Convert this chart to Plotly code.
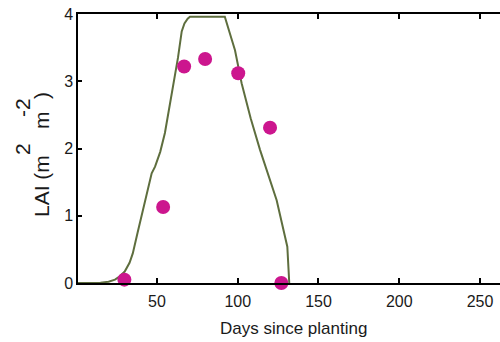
import plotly.graph_objects as go

# Simulated LAI curve
sim_days = [1, 10, 15, 20, 24, 27, 30, 33, 35, 38, 41.5, 44, 46.7, 48.8, 52, 54.9,
            58.5, 61, 63, 65.3, 67, 69, 70.4, 75, 80, 85, 92, 95, 98.3, 102.4, 108,
            113.8, 119, 124.1, 130.7, 131.9]
sim_lai = [0, 0, 0.005, 0.02, 0.05, 0.1, 0.17, 0.3, 0.44, 0.75, 1.09, 1.35, 1.63, 1.73,
           1.95, 2.23, 2.72, 3.05, 3.35, 3.74, 3.86, 3.93, 3.96, 3.96, 3.96, 3.96, 3.96,
           3.72, 3.46, 2.97, 2.45, 1.98, 1.6, 1.23, 0.54, 0.0]

# Observed LAI
obs_days = [29.8, 53.8, 66.8, 79.8, 100.3, 120.0, 127.0]
obs_lai = [0.05, 1.13, 3.22, 3.33, 3.12, 2.31, 0.0]

x_ticks = [50, 100, 150, 200, 250]
y_ticks = [0, 1, 2, 3, 4]

W, H = 500, 342
L, R, T, B = 78, 0, 14, 59
pw, ph = W - L - R, H - T - B

def px(xp):
    return (xp - L) / pw

def py(yp):
    return (H - B - yp) / ph

font = "Liberation Sans, Arial, sans-serif"
txt = "#1a1a1a"

fig = go.Figure()
fig.add_trace(go.Scatter(x=sim_days, y=sim_lai, mode="lines",
                         line=dict(color="#5E6E3E", width=2), showlegend=False,
                         cliponaxis=False))
fig.add_trace(go.Scatter(x=obs_days, y=obs_lai, mode="markers",
                         marker=dict(color="#CC168E", size=14, line=dict(width=0)),
                         showlegend=False, cliponaxis=False))

fig.update_layout(
    width=W, height=H,
    margin=dict(l=L, r=R, t=T, b=B, pad=0),
    paper_bgcolor="white", plot_bgcolor="white",
    font=dict(family=font, size=16, color=txt),
    xaxis=dict(range=[1.08, 262.4], tickvals=x_ticks, ticktext=[str(v) for v in x_ticks],
               ticks="inside", ticklen=5, tickwidth=1.5, tickcolor="black",
               showline=True, linecolor="black", linewidth=2, mirror="ticks",
               showgrid=False, zeroline=False, tickfont=dict(size=16, color=txt),
               ticklabelstandoff=3),
    yaxis=dict(range=[0, 4], tickvals=y_ticks, ticktext=[str(v) for v in y_ticks],
               ticks="inside", ticklen=4, tickwidth=1.5, tickcolor="black",
               showline=True, linecolor="black", linewidth=1.5, mirror=False,
               showgrid=False, zeroline=False, tickfont=dict(size=16, color=txt)),
)

ann = [
    ("Days since planting", 293.5, 328, 0, 17),
    ("LAI (m", 41, 186, -90, 21),
    ("m", 41, 120, -90, 21),
    (")", 41, 96, -90, 21),
    ("2", 22, 149, -90, 21),
    ("-2", 22, 107, -90, 21),
]
for t, xx, yy, ang, fs in ann:
    fig.add_annotation(text=t, xref="paper", yref="paper", x=px(xx), y=py(yy),
                       xanchor="center", yanchor="middle", showarrow=False,
                       textangle=ang, font=dict(family=font, size=fs, color=txt))

fig.write_html("out.html", config={"displayModeBar": False},
               post_script="document.body.style.margin='0';document.body.style.overflow='hidden';")
